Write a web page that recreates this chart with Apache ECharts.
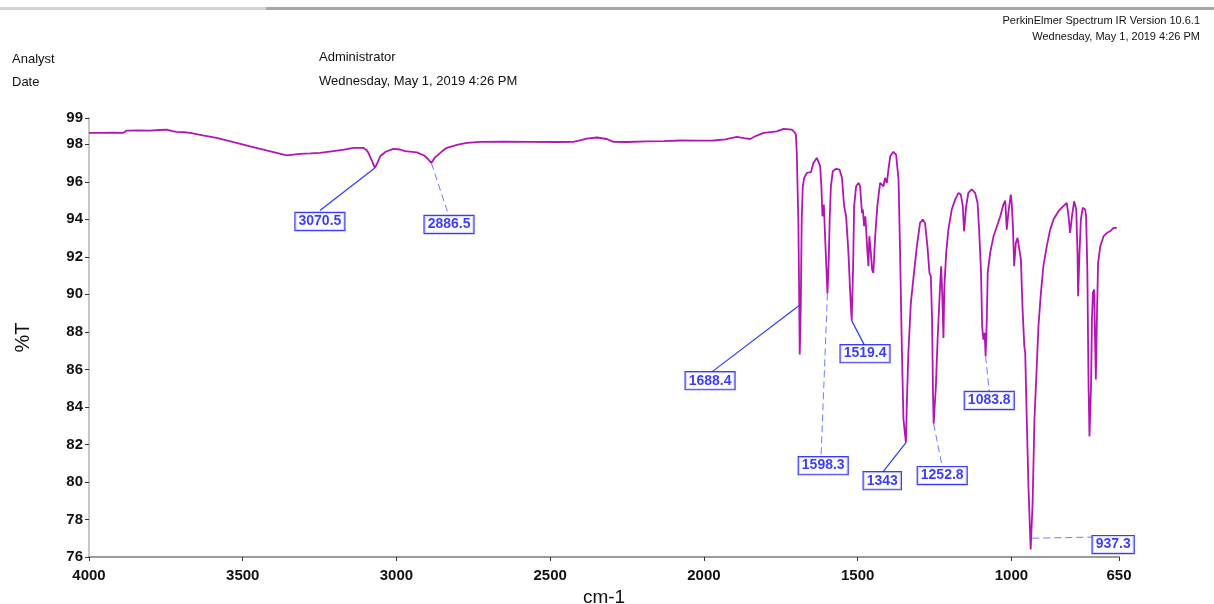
<!DOCTYPE html>
<html>
<head>
<meta charset="utf-8">
<title>IR spectrum</title>
<script src="https://cdn.jsdelivr.net/npm/echarts@6/dist/echarts.min.js"></script>
<style>
  html, body { margin: 0; padding: 0; background: #fff; }
  #chart { width: 1214px; height: 604px; }
</style>
</head>
<body>
<div id="chart"></div>
<script>
// spectrum (cm-1 / %T)
var wavenumber = [
  4000, 3960, 3920, 3888, 3877, 3840, 3802, 3770, 3747, 3730, 3715, 3690, 3671, 3630, 3585,
  3530, 3476, 3420, 3380, 3357, 3335, 3314, 3280, 3249, 3205, 3170, 3140, 3108, 3098, 3091,
  3082, 3070.5, 3062, 3053, 3035, 3010, 2988, 2972, 2934, 2910, 2901, 2886.5, 2875, 2864, 2850,
  2836, 2800, 2771, 2728, 2650, 2565, 2480, 2425, 2400, 2381, 2348, 2316, 2294, 2250, 2186,
  2130, 2077, 2020, 1969, 1930, 1893, 1870, 1850, 1830, 1806, 1763, 1741, 1714, 1706, 1701,
  1698, 1693, 1690.5, 1688.4, 1685, 1682, 1678.5, 1674, 1665, 1652, 1644, 1633, 1628, 1622, 1618,
  1614.5, 1610, 1606, 1601.5, 1598.3, 1594, 1591, 1587, 1581, 1570, 1559, 1551, 1544, 1537.5, 1530,
  1524, 1519.4, 1515, 1511.5, 1505, 1497, 1492, 1486, 1483, 1479, 1475, 1468, 1465, 1462, 1457,
  1453, 1449, 1443, 1436, 1427, 1421, 1416, 1411, 1405, 1400, 1394, 1384, 1375, 1367, 1362,
  1356, 1351, 1343, 1340, 1335, 1327, 1318, 1307.5, 1297, 1288, 1281, 1273, 1266.5, 1262, 1258,
  1255, 1252.8, 1245.6, 1240, 1236, 1232, 1228.5, 1225, 1221, 1218, 1212, 1205, 1194, 1183, 1172,
  1164.5, 1158, 1154, 1147, 1140, 1129, 1118, 1110, 1105, 1099, 1095, 1091, 1087, 1083.8, 1080,
  1077, 1069, 1058, 1047, 1036, 1026, 1020, 1015, 1010, 1002, 999, 995, 991, 985.5, 980,
  974, 969, 964, 958, 955, 950, 944.5, 937.3, 931, 925, 917, 912, 904, 896, 885,
  874, 863, 847, 831, 820, 814, 809, 803, 796, 789, 785, 783, 778.5, 774, 768,
  760, 757, 753, 749, 746, 741, 738, 735, 731, 728, 725.3, 722, 718, 711, 700,
  689, 679, 668, 663, 657
];
var transmittance = [
  98.61, 98.61, 98.62, 98.61, 98.73, 98.74, 98.73, 98.76, 98.78, 98.70, 98.66, 98.64, 98.61, 98.48, 98.34,
  98.12, 97.89, 97.66, 97.50, 97.41, 97.45, 97.49, 97.51, 97.54, 97.63, 97.72, 97.81, 97.81, 97.70, 97.54,
  97.20, 96.74, 97.00, 97.36, 97.60, 97.75, 97.72, 97.63, 97.57, 97.40, 97.27, 97.00, 97.30, 97.45, 97.65,
  97.81, 97.98, 98.07, 98.13, 98.14, 98.13, 98.12, 98.13, 98.22, 98.30, 98.36, 98.28, 98.13, 98.12, 98.15,
  98.17, 98.20, 98.19, 98.20, 98.26, 98.39, 98.33, 98.28, 98.45, 98.61, 98.69, 98.82, 98.78, 98.65, 98.52,
  97.54, 93.99, 90.40, 86.80, 89.36, 93.99, 95.76, 96.21, 96.48, 96.51, 97.00, 97.27, 97.22, 96.83, 95.76,
  94.16, 94.79, 93.10, 91.32, 90.05, 91.85, 93.99, 95.76, 96.56, 96.69, 96.65, 96.21, 94.70, 94.16, 92.21,
  90.00, 88.60, 91.30, 94.70, 95.76, 95.94, 95.76, 94.34, 94.52, 93.63, 94.16, 92.21, 91.50, 93.10, 92.21,
  91.32, 91.14, 93.10, 94.70, 95.94, 96.03, 95.76, 96.21, 95.94, 96.65, 97.36, 97.60, 97.45, 96.12, 92.21,
  86.88, 83.33, 82.10, 84.22, 86.88, 89.55, 90.96, 92.56, 93.81, 93.99, 93.81, 92.56, 91.14, 90.96, 88.66,
  84.75, 83.10, 85.10, 87.59, 89.01, 90.43, 91.50, 90.08, 87.68, 90.43, 92.21, 93.45, 94.52, 95.05, 95.41,
  95.32, 94.70, 93.36, 94.70, 95.41, 95.59, 95.41, 94.88, 93.45, 91.32, 88.30, 87.59, 87.95, 86.70, 88.66,
  91.14, 92.21, 93.10, 93.63, 94.16, 94.79, 95.00, 93.45, 94.34, 95.32, 94.88, 93.63, 91.50, 92.74, 93.01,
  92.92, 91.85, 89.36, 87.23, 86.88, 83.33, 79.77, 76.40, 78.88, 83.33, 86.35, 88.30, 90.08, 91.50, 92.56,
  93.45, 93.99, 94.43, 94.70, 94.88, 94.16, 93.28, 94.16, 94.96, 94.52, 92.21, 89.90, 92.21, 93.99, 94.61,
  94.52, 94.16, 91.32, 85.10, 82.43, 85.10, 88.66, 90.08, 90.26, 87.77, 85.46, 88.66, 91.68, 92.56, 93.10,
  93.28, 93.36, 93.54, 93.63, 93.54
];

// peak picks
var peakLabels = ['3070.5', '2886.5', '1688.4', '1598.3', '1519.4', '1343', '1252.8', '1083.8', '937.3'];
var peakPoints = [[3070.5, 96.74], [2886.5, 97.0], [1687, 89.45], [1598.3, 90.05], [1519.4, 88.6],
  [1343, 82.1], [1252.8, 83.1], [1083.8, 86.7], [932, 77.0]];

// axis ticks
var xTicks = [4000, 3500, 3000, 2500, 2000, 1500, 1000, 650];
var yTicks = [76, 78, 80, 82, 84, 86, 88, 90, 92, 94, 96, 98, 99.4];

// where the callout boxes sit (layout only), and whether the leader is dashed
var calloutEnd = [[3249, 94.47], [2831, 94.25], [1973, 85.88], [1619, 81.35], [1479, 87.32],
  [1417, 80.55], [1225, 80.82], [1072, 84.82], [672, 77.08]];
var calloutBox = [[3249, 93.88], [2829, 93.72], [1980, 85.4], [1612, 80.87], [1476, 86.84],
  [1420, 80.07], [1225, 80.34], [1072, 84.34], [669, 76.66]];
var calloutDashed = [false, true, false, true, false, false, true, true, true];

var BLUE = '#0a0aff';
var FONT = '"Liberation Sans", Arial, sans-serif';

var spectrum = wavenumber.map(function (w, i) { return [w, transmittance[i]]; });

var leaders = peakPoints.map(function (p, i) {
  return [
    {
      coord: p,
      lineStyle: calloutDashed[i]
        ? { color: '#6f7cff', width: 1, type: [7, 4] }
        : { color: '#2a3cff', width: 1.2, type: 'solid' }
    },
    { coord: calloutEnd[i] }
  ];
});

var boxes = calloutBox.map(function (p, i) {
  return { value: p, name: peakLabels[i] };
});

var chart = echarts.init(document.getElementById('chart'), null, { renderer: 'canvas' });
chart.setOption({
  animation: false,
  backgroundColor: '#fff',
  grid: { left: 89, right: 95, top: 118, bottom: 47, outerBoundsMode: 'none', containLabel: false },
  xAxis: {
    type: 'value',
    inverse: true,
    min: 650,
    max: 4000,
    name: 'cm-1',
    nameLocation: 'middle',
    nameGap: 30,
    nameTextStyle: { fontFamily: FONT, fontSize: 19, color: '#111' },
    splitLine: { show: false },
    axisLine: { show: true, lineStyle: { color: '#9a9a9a', width: 2 } },
    axisTick: { show: true, customValues: xTicks, length: 4, lineStyle: { color: '#333' } },
    axisLabel: {
      customValues: xTicks,
      margin: 11,
      fontFamily: FONT,
      fontSize: 15,
      fontWeight: 'bold',
      color: '#111',
      formatter: function (v) { return String(v); }
    }
  },
  yAxis: {
    type: 'value',
    min: 76,
    max: 99.4,
    name: '%T',
    nameLocation: 'middle',
    nameRotate: 90,
    nameGap: 56,
    nameTextStyle: { fontFamily: FONT, fontSize: 20, color: '#111' },
    splitLine: { show: false },
    axisLine: { show: true, lineStyle: { color: '#c8c8c8', width: 2 } },
    axisTick: { show: true, customValues: yTicks, length: 4, lineStyle: { color: '#333' } },
    axisLabel: {
      customValues: yTicks,
      margin: 6,
      fontFamily: FONT,
      fontSize: 15,
      fontWeight: 'bold',
      color: '#111',
      formatter: function (v) { return v > 99 ? '99' : String(v); }
    }
  },
  series: [
    {
      type: 'line',
      data: spectrum,
      showSymbol: false,
      symbol: 'none',
      lineStyle: { color: '#b315b3', width: 1.8 },
      z: 3,
      markLine: {
        silent: true,
        symbol: ['none', 'none'],
        label: { show: false },
        data: leaders
      }
    },
    {
      type: 'scatter',
      data: boxes,
      symbolSize: 0,
      silent: true,
      z: 5,
      label: {
        show: true,
        position: 'inside',
        formatter: '{b}',
        fontFamily: FONT,
        fontSize: 14,
        fontWeight: 'bold',
        color: BLUE,
        backgroundColor: '#fff',
        borderColor: BLUE,
        borderWidth: 1.2,
        padding: [2, 3, 1, 3]
      }
    }
  ],
  graphic: [
    // strip along the top edge
    { type: 'rect', left: 0, top: 7, shape: { width: 1214, height: 3 }, style: { fill: '#a8a8a8' } },
    { type: 'rect', left: 0, top: 7, shape: { width: 266, height: 3 }, style: { fill: '#d4d4d4' } },
    // header
    { type: 'text', right: 14, top: 15, style: { text: 'PerkinElmer Spectrum IR Version 10.6.1', font: '11px ' + FONT, fill: '#111' } },
    { type: 'text', right: 14, top: 31, style: { text: 'Wednesday, May 1, 2019 4:26 PM', font: '11px ' + FONT, fill: '#111' } },
    { type: 'text', left: 12, top: 53, style: { text: 'Analyst', font: '13px ' + FONT, fill: '#111' } },
    { type: 'text', left: 12, top: 76, style: { text: 'Date', font: '13px ' + FONT, fill: '#111' } },
    { type: 'text', left: 319, top: 51, style: { text: 'Administrator', font: '13px ' + FONT, fill: '#111' } },
    { type: 'text', left: 319, top: 75, style: { text: 'Wednesday, May 1, 2019 4:26 PM', font: '13px ' + FONT, fill: '#111' } }
  ]
});
</script>
</body>
</html>
